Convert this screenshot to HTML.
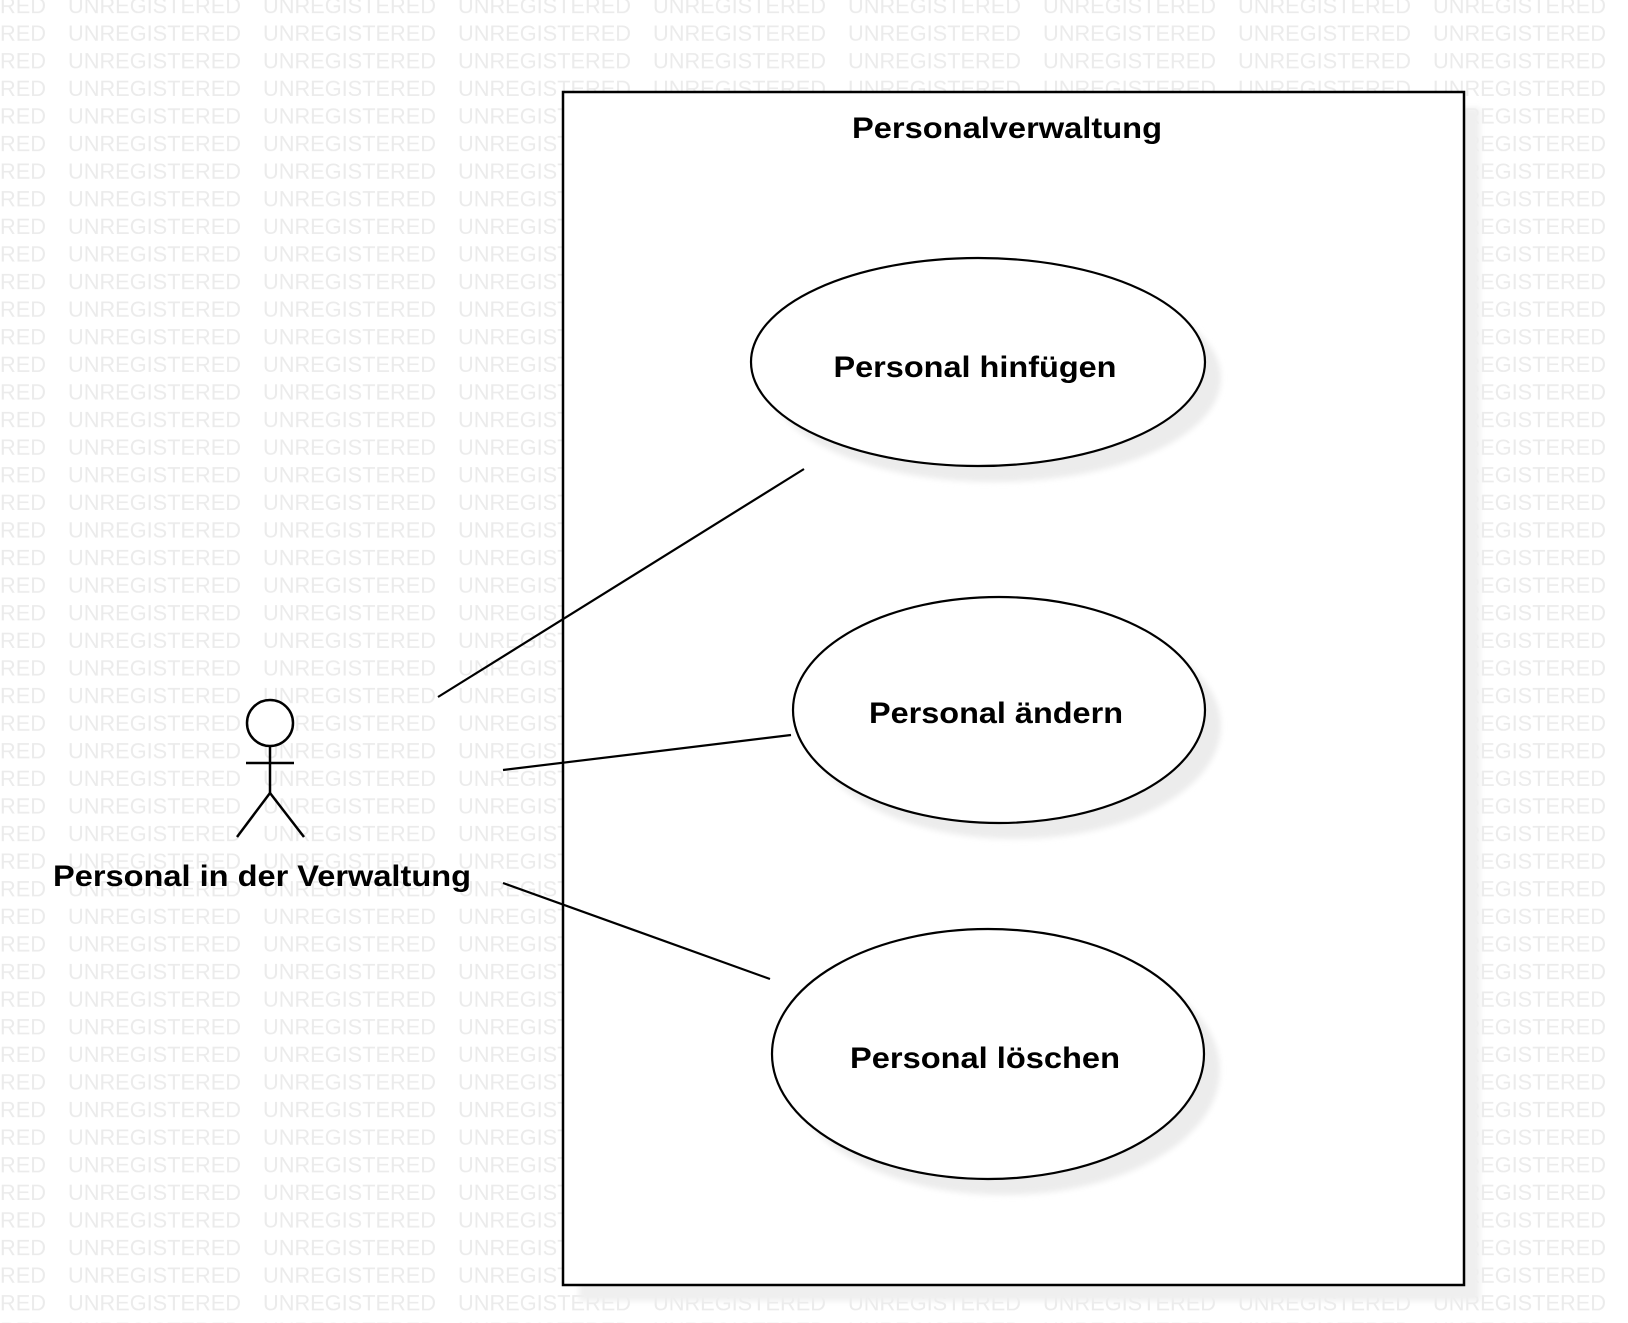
<!DOCTYPE html>
<html><head><meta charset="utf-8"><style>
html,body{margin:0;padding:0;background:#fff;}
svg{display:block;}
</style></head><body>
<svg width="1628" height="1323" viewBox="0 0 1628 1323" xmlns="http://www.w3.org/2000/svg">
<defs>
<pattern id="wm" patternUnits="userSpaceOnUse" x="68" y="681" width="195" height="27.6">
<text x="0" y="22" font-family="Liberation Sans, sans-serif" font-size="22" fill="#ebebeb" textLength="173" lengthAdjust="spacingAndGlyphs">UNREGISTERED</text>
</pattern>
<filter id="blur" x="-10%" y="-10%" width="120%" height="120%"><feGaussianBlur stdDeviation="3"/></filter>
</defs>
<rect width="1628" height="1323" fill="#fff"/>
<rect width="1628" height="1323" fill="url(#wm)"/>
<rect x="579" y="108" width="901" height="1193" fill="#efefef" filter="url(#blur)"/>
<rect x="563" y="92" width="901" height="1193" fill="#fff" stroke="#000" stroke-width="2.5"/>
<text x="1007" y="138" text-anchor="middle" font-family="Liberation Sans, sans-serif" font-weight="bold" font-size="30" textLength="310" lengthAdjust="spacingAndGlyphs">Personalverwaltung</text>
<ellipse cx="994" cy="378" rx="227" ry="104" fill="#ececec" filter="url(#blur)"/>
<ellipse cx="1015" cy="726" rx="206" ry="113" fill="#ececec" filter="url(#blur)"/>
<ellipse cx="1004" cy="1070" rx="216" ry="125" fill="#ececec" filter="url(#blur)"/>
<ellipse cx="978" cy="362" rx="227" ry="104" fill="#fff" stroke="#000" stroke-width="2.2"/>
<ellipse cx="999" cy="710" rx="206" ry="113" fill="#fff" stroke="#000" stroke-width="2.2"/>
<ellipse cx="988" cy="1054" rx="216" ry="125" fill="#fff" stroke="#000" stroke-width="2.2"/>
<g font-family="Liberation Sans, sans-serif" font-weight="bold" font-size="30" text-anchor="middle">
<text x="975" y="377" textLength="283" lengthAdjust="spacingAndGlyphs">Personal hinfügen</text>
<text x="996" y="723" textLength="254" lengthAdjust="spacingAndGlyphs">Personal ändern</text>
<text x="985" y="1068" textLength="270" lengthAdjust="spacingAndGlyphs">Personal löschen</text>
<text x="262" y="886" textLength="418" lengthAdjust="spacingAndGlyphs">Personal in der Verwaltung</text>
</g>
<g stroke="#000" stroke-width="2.5" fill="none">
<circle cx="270" cy="723" r="23" fill="#fff"/>
<line x1="270" y1="746" x2="270" y2="793"/>
<line x1="246" y1="763" x2="294" y2="763"/>
<line x1="270" y1="793" x2="237" y2="837"/>
<line x1="270" y1="793" x2="304" y2="837"/>
</g>
<g stroke="#000" stroke-width="2.2">
<line x1="438" y1="697" x2="804" y2="469"/>
<line x1="503" y1="770" x2="791" y2="735"/>
<line x1="503" y1="883" x2="770" y2="979"/>
</g>
</svg>
</body></html>
